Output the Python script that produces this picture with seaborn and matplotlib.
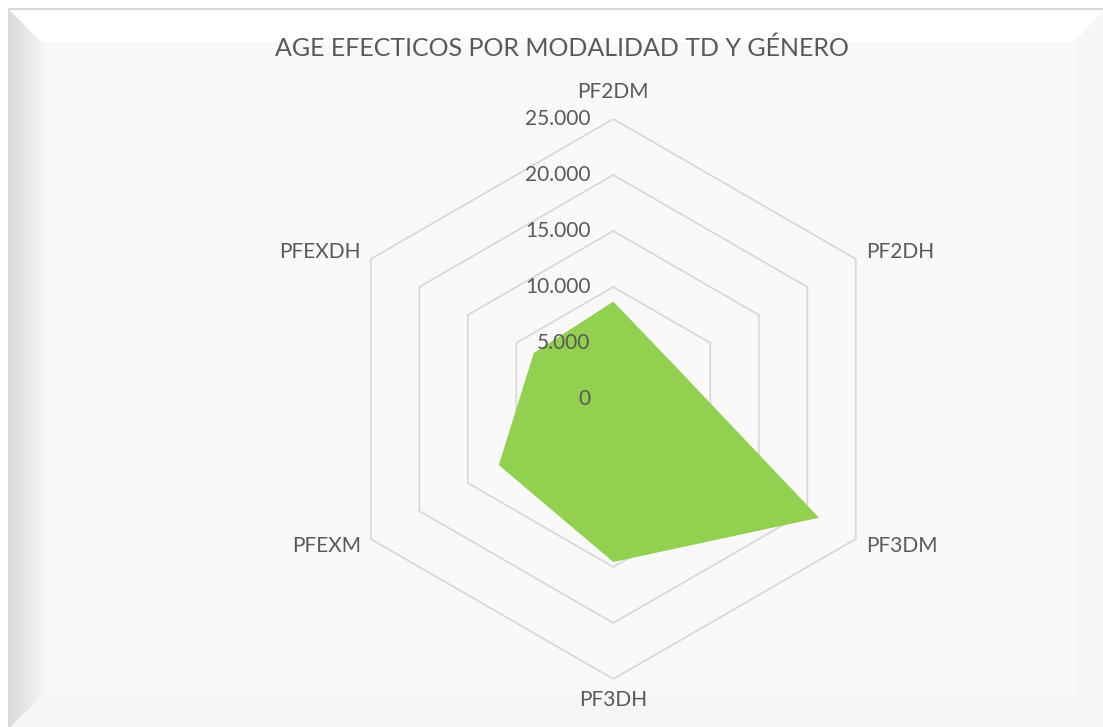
import numpy as np
import pandas as pd
import matplotlib.pyplot as plt
import seaborn as sns

# data
categories = ['PF2DM', 'PF2DH', 'PF3DM', 'PF3DH', 'PFEXM', 'PFEXDH']
values = [8700, 6200, 21200, 14550, 11800, 8200]
grid_levels = [5000, 10000, 15000, 20000, 25000]
tick_labels = ['0', '5.000', '10.000', '15.000', '20.000', '25.000']
title = 'AGE EFECTICOS POR MODALIDAD TD Y GÉNERO'

text_color = '#595959'
grid_color = '#d9d9d9'
fill_color = '#92d050'
rmax = 25000

sns.set_theme(style='white')
plt.rcParams['font.family'] = ['Lato', 'DejaVu Sans']

W, H = 1103, 727
fig = plt.figure(figsize=(W / 100, H / 100), dpi=100)

# beveled chart frame as a background image
yy, xx = np.mgrid[0:H, 0:W].astype(float)
bg = np.full((H, W), 0.98)
left = (xx < 50) & (yy - 10 > xx - 10) & (yy - 727 < -(xx - 10))
bg[left] = 0.86 + 0.12 * np.clip((xx[left] - 10) / 40, 0, 1)
top = (yy < 42) & ~left & (yy - 10 < -(xx - 1103) * 1.07)
bg[top] = 1.0
right = (xx > 1073) & ~top
bg[right] = 0.965
bottom = (yy > 695) & ~left & ~right
bg[bottom] = 0.965
bg[(xx < 10) | (yy < 10)] = 1.0
bg[((xx >= 8) & (xx < 10) & (yy >= 8)) | ((yy >= 8) & (yy < 10) & (xx >= 8))] = 0.85
bax = fig.add_axes([0, 0, 1, 1], zorder=-1)
bax.imshow(np.dstack([bg] * 3), aspect='auto', interpolation='nearest')
bax.axis('off')

cx, cy, rpx = 613.3, 399, 280
ax = fig.add_axes([(cx - rpx) / W, (H - cy - rpx) / H, 2 * rpx / W, 2 * rpx / H])
ax.set_xlim(-rmax, rmax)
ax.set_ylim(-rmax, rmax)
ax.axis('off')

n = len(categories)
angles = np.arange(n) * 2 * np.pi / n
sx, sy = np.sin(angles), np.cos(angles)

# hexagonal grid
for lev in grid_levels:
    ring = pd.DataFrame({'x': np.append(sx, sx[0]) * lev,
                         'y': np.append(sy, sy[0]) * lev})
    sns.lineplot(data=ring, x='x', y='y', sort=False, estimator=None,
                 color=grid_color, lw=1.3, ax=ax, zorder=1)

# data area
vals = np.array(values)
ax.fill(sx * vals, sy * vals, color=fill_color, lw=0, zorder=2)

# value labels
for i, lab in enumerate(tick_labels):
    ax.annotate(lab, xy=(0, i * 5000), xytext=(-23, 0), textcoords='offset pixels',
                ha='right', va='center', fontsize=15, color=text_color, zorder=3)

# category labels
offsets = [(0, 27, 'center'), (10, 7, 'left'), (10, -7, 'left'),
           (0, -21, 'center'), (-10, -7, 'right'), (-10, 7, 'right')]
for i, cat in enumerate(categories):
    dx, dy, ha = offsets[i]
    ax.annotate(cat, xy=(sx[i] * rmax, sy[i] * rmax), xytext=(dx, dy),
                textcoords='offset pixels', ha=ha, va='center',
                fontsize=15, color=text_color, annotation_clip=False)

fig.text(561.5 / W, 1 - 48 / H, title, ha='center', va='center',
         fontsize=18, color=text_color)

fig.savefig('out.png', dpi=100)
